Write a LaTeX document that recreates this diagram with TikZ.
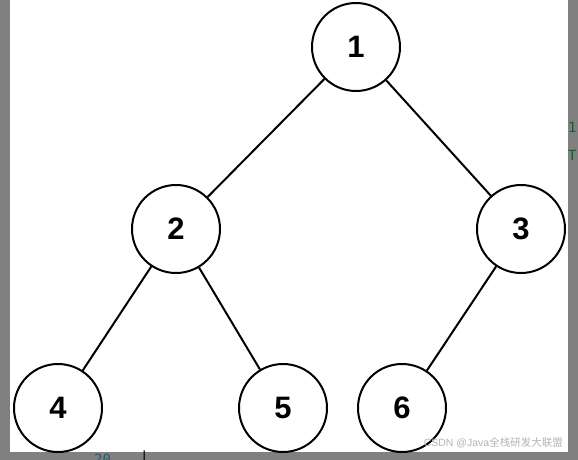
\documentclass[tikz,border=0pt]{standalone}
\usepackage{fontspec}
\setmainfont{Liberation Sans}
\newfontfamily\cjk{Noto Sans CJK SC}
\newfontfamily\codefont{DejaVu Sans Mono}
\definecolor{frame}{HTML}{808080}
\definecolor{wm}{HTML}{B4B4B4}
\definecolor{codegreen}{HTML}{1F5A2A}
\definecolor{codeteal}{HTML}{2A5A6A}
\tikzset{
  tnode/.style={circle, draw=black, line width=2pt, fill=white, minimum size=88pt, inner sep=0pt,
    font=\fontsize{31}{31}\selectfont\bfseries},
  tedge/.style={line width=2pt, black},
  code/.style={font=\codefont\fontsize{14}{14}\selectfont, inner sep=0pt, anchor=west}
}
\begin{document}
\begin{tikzpicture}[x=1pt,y=-1pt]
\useasboundingbox (0,0) rectangle (578,460);
\fill[frame] (0,0) rectangle (578,460);
\fill[white] (10,0) rectangle (568,452);
\node[code, text=codegreen] (c1) at (568,127) {1};
\node[code, text=codegreen] (c2) at (568,155) {T};
\node[code, text=codeteal] (c3) at (94,459) {20};
\node[code, text=black] (c4) at (140,458) {|};
\node (n1) [tnode] at (356,47) {1};
\node (n2) [tnode] at (176,229) {2};
\node (n3) [tnode] at (521,229) {3};
\node (n4) [tnode] at (58,408) {4};
\node (n5) [tnode] at (283,408) {5};
\node (n6) [tnode] at (402,408) {6};
\draw[tedge] (n1) -- (n2);
\draw[tedge] (n1) -- (n3);
\draw[tedge] (n2) -- (n4);
\draw[tedge] (n2) -- (n5);
\draw[tedge] (n3) -- (n6);
\node[anchor=east, inner sep=0pt, text=wm, font=\fontsize{10.5}{10.5}\selectfont] (wmk) at (563,443) {CSDN @Java{\cjk 全栈研发大联盟}};
\end{tikzpicture}
\end{document}
